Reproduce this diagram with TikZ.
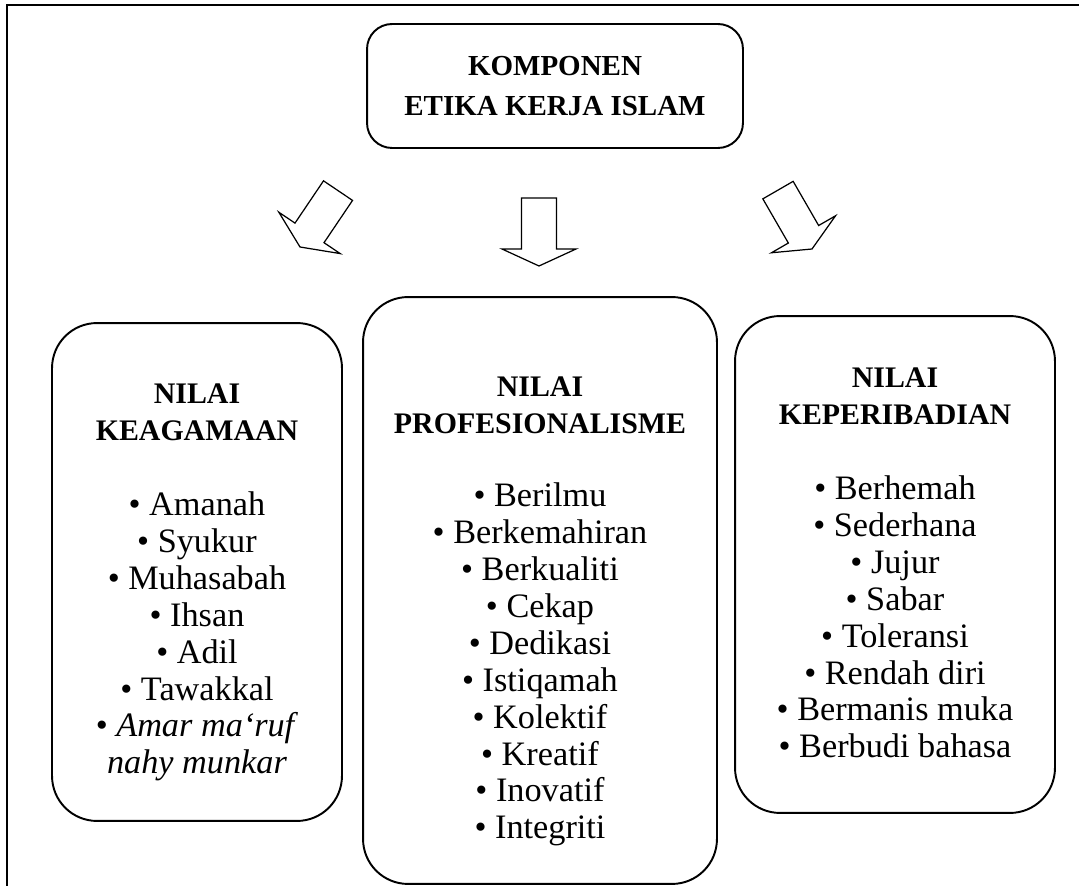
\documentclass[tikz,border=0pt]{standalone}
\usepackage{fontspec}
\setmainfont{Liberation Serif}
\usetikzlibrary{positioning}

\newcommand{\judulteks}[1]{{\bfseries\fontsize{17}{21}\selectfont #1}}

\begin{document}
\begin{tikzpicture}[x=0.02cm, y=0.02cm,
		kotak/.style={draw, line width=1.1pt, inner sep=0pt, rounded corners=0.9cm},
		isi/.style={align=center, inner sep=0pt, font=\fontsize{19.5}{21}\selectfont},
		panah/.style={draw, line width=0.7pt, fill=white, line join=miter}]
	\useasboundingbox (0,0) rectangle (1079,886);
	\clip (0,0) rectangle (1079,886);
	\draw [line width=1.2pt] (7,-20) -- (7,881) -- (1100,881); % Rahmen
	% Kotak atas
	\node[kotak, rounded corners=0.5cm, minimum width=7.52cm, minimum height=2.48cm,
		align=center, font=\bfseries\fontsize{16.5}{23}\selectfont] (komponen) at (555,800)
		{KOMPONEN\\ ETIKA KERJA ISLAM};
	% Anak panah blok
	\foreach \px/\py/\rot in {300/639/-34, 539/620/0, 812/637/30}
		\draw [panah, shift={(\px,\py)}, rotate=\rot] (-17.5,68) -- (17.5,68) -- (17.5,17)
			-- (37,17) -- (0,0) -- (-37,17) -- (-17.5,17) -- cycle;
	% Tiga kotak nilai
	\node[kotak, minimum width=5.8cm, minimum height=9.96cm] (keagamaan) at (197,314) {};
	\node[kotak, minimum width=7.08cm, minimum height=11.74cm] (profesional) at (540,295.5) {};
	\node[kotak, minimum width=6.4cm, minimum height=9.94cm] (keperibadian) at (895,321.5) {};
	\node[isi, below=1.22cm of keagamaan.north] (teks1) {\judulteks{NILAI}\\ \judulteks{KEAGAMAAN}\\[22pt]
		\textbullet{} Amanah\\ \textbullet{} Syukur\\ \textbullet{} Muhasabah\\ \textbullet{} Ihsan\\
		\textbullet{} Adil\\ \textbullet{} Tawakkal\\ \textbullet{} \textit{Amar ma‘ruf}\\ \textit{nahy munkar}};
	\node[isi, below=1.6cm of profesional.north] (teks2) {\judulteks{NILAI}\\ \judulteks{PROFESIONALISME}\\[21pt]
		\textbullet{} Berilmu\\ \textbullet{} Berkemahiran\\ \textbullet{} Berkualiti\\ \textbullet{} Cekap\\
		\textbullet{} Dedikasi\\ \textbullet{} Istiqamah\\ \textbullet{} Kolektif\\ \textbullet{} Kreatif\\
		\textbullet{} Inovatif\\ \textbullet{} Integriti};
	\node[isi, below=1.04cm of keperibadian.north] (teks3) {\judulteks{NILAI}\\ \judulteks{KEPERIBADIAN}\\[22pt]
		\textbullet{} Berhemah\\ \textbullet{} Sederhana\\ \textbullet{} Jujur\\ \textbullet{} Sabar\\
		\textbullet{} Toleransi\\ \textbullet{} Rendah diri\\ \textbullet{} Bermanis muka\\ \textbullet{} Berbudi bahasa};
\end{tikzpicture}
\end{document}
